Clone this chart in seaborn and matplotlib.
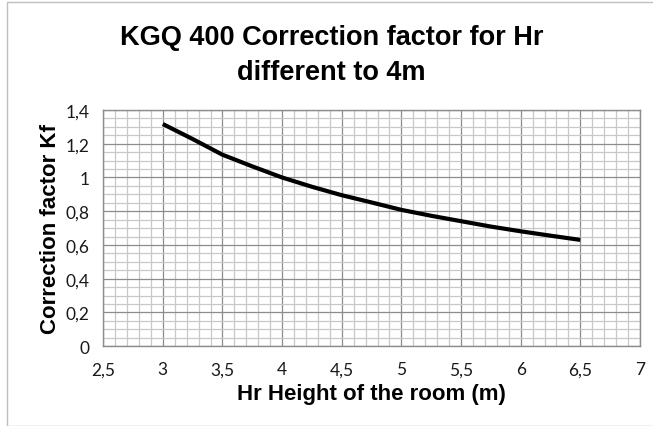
import matplotlib
matplotlib.use("Agg")
import matplotlib.pyplot as plt
import seaborn as sns
import pandas as pd
from matplotlib.ticker import MultipleLocator, FuncFormatter
from matplotlib.patches import Rectangle

# Data
room_height = [3.0, 3.25, 3.5, 3.75, 4.0, 4.25, 4.5, 4.75, 5.0, 5.25, 5.5, 5.75, 6.0, 6.25, 6.5]
correction_factor = [1.317, 1.228, 1.135, 1.066, 1.0, 0.945, 0.895, 0.852, 0.808, 0.773, 0.741, 0.709, 0.681, 0.655, 0.63]

title_lines = ["KGQ 400 Correction factor for Hr", "different to 4m"]
xlabel = "Hr Height of the room (m)"
ylabel = "Correction factor Kf"

df = pd.DataFrame({"x": room_height, "y": correction_factor})

sns.set_theme(style="white")
plt.rcParams['font.family'] = ['Liberation Sans', 'DejaVu Sans']

fig = plt.figure(figsize=(6.53, 4.27), dpi=100)
ax = fig.add_axes([0.158, 0.187, 0.822, 0.553])

sns.lineplot(data=df, x="x", y="y", ax=ax, color="black", linewidth=3.0, sort=False)
for ln in ax.lines:
    ln.set_solid_capstyle("butt")
    ln.set_solid_joinstyle("round")

ax.set_xlim(2.5, 7)
ax.set_ylim(0, 1.4)
ax.xaxis.set_major_locator(MultipleLocator(0.5))
ax.xaxis.set_minor_locator(MultipleLocator(0.1))
ax.yaxis.set_major_locator(MultipleLocator(0.2))
ax.yaxis.set_minor_locator(MultipleLocator(0.05))

def fmt(v, pos):
    s = ("%.1f" % v).rstrip("0").rstrip(".")
    return s.replace(".", ",")

ax.xaxis.set_major_formatter(FuncFormatter(fmt))
ax.yaxis.set_major_formatter(FuncFormatter(fmt))

ax.grid(which="major", color="#8c8c8c", linewidth=0.9)
ax.grid(which="minor", color="#c8c8c8", linewidth=0.9)
ax.set_axisbelow(True)
for s in ax.spines.values():
    s.set_color("#8c8c8c")
    s.set_linewidth(1.0)

ax.tick_params(which="both", length=0)
ax.tick_params(axis="x", pad=11, labelsize=12.5)
ax.tick_params(axis="y", pad=10, labelsize=12.5)
for lab in ax.get_xticklabels() + ax.get_yticklabels():
    lab.set_fontfamily(["Lato", "DejaVu Sans"])
    lab.set_color("#1a1a1a")

ax.set_xlabel(xlabel, fontsize=16, fontweight="bold", labelpad=4, color="black")
ax.set_ylabel(ylabel, fontsize=16, fontweight="bold", labelpad=3, color="black")

fig.text(0.508, 1 - 38/427, title_lines[0], ha="center", va="center", fontsize=19.5,
         fontweight="bold", color="black")
fig.text(0.508, 1 - 73/427, title_lines[1], ha="center", va="center", fontsize=19.5,
         fontweight="bold", color="black")

fig.patches.append(Rectangle((7/653, 0), 2, 1 - 3/427, transform=fig.transFigure,
                             fill=False, edgecolor="#bfbfbf", linewidth=1.0))

fig.savefig("out.png", dpi=100)
